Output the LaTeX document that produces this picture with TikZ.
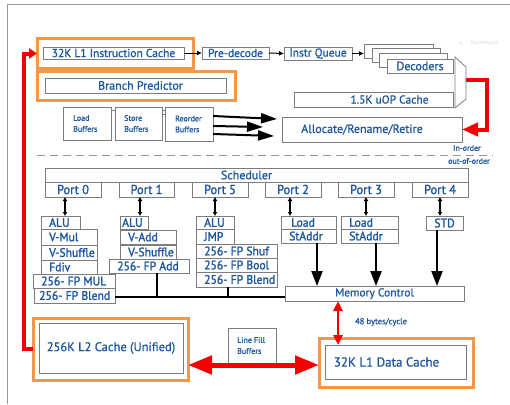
\documentclass[tikz,border=0pt]{standalone}
\usepackage{fontspec}
\setmainfont{PT Sans}
\newfontfamily\medfont[FakeBold=0.8]{PT Sans}
\newfontfamily\heavyfont[FakeBold=1.6,FakeStretch=0.95]{PT Sans}
\usetikzlibrary{arrows.meta,fit,calc}
\definecolor{txtblue}{RGB}{28,86,158}
\definecolor{boxgray}{RGB}{125,125,125}
\definecolor{orng}{RGB}{247,150,70}
\definecolor{redarr}{RGB}{245,0,0}
\tikzset{
  ubox/.style={draw=boxgray,line width=0.8pt,fill=white,inner sep=0pt,outer sep=0pt},
  obox/.style={draw=orng,line width=3pt,inner sep=0pt,outer sep=0pt},
  txt/.style={text=txtblue,inner sep=0pt,font=\medfont\fontsize{11.5}{13}\selectfont},
  bigtxt/.style={font=\medfont\fontsize{12}{14}\selectfont},
  unittxt/.style={font=\heavyfont\fontsize{12.3}{14}\selectfont},
  porttxt/.style={font=\heavyfont\fontsize{13}{15}\selectfont},
  smalltxt/.style={font=\medfont\fontsize{8}{11}\selectfont},
  flow/.style={draw=black,line width=1pt,-{Latex[length=5pt,width=5pt]}},
  biarr/.style={draw=black,line width=1.3pt,{Latex[length=4pt,width=5pt]}-{Latex[length=4pt,width=5pt]}},
  fatarr/.style={draw=black,line width=2.2pt,-{Triangle[length=15pt,width=11pt]}},
  issue/.style={draw=black,line width=2pt,-{Triangle[length=16pt,width=10pt]}},
  redline/.style={draw=redarr,line width=4pt},
}
% box with centred text: [text options]{name}{corner}{corner}{text}
\newcommand\mybox[5][]{\node[ubox,fit={(#3) (#4)}] (#2) {};
  \node[txt,#1] (#2-t) at (#2.center) {#5};}
% box with text set flush left
\newcommand\mylbox[5][]{\node[ubox,fit={(#3) (#4)}] (#2) {};
  \node[txt,anchor=west,#1] (#2-t) at ($(#2.west)+(8,0)$) {#5};}

\begin{document}
\begin{tikzpicture}[x=1pt,y=-1pt]
\useasboundingbox (0,0) rectangle (510,404);
\fill[white] (0,0) rectangle (510,404);
\draw[boxgray!80,line width=1pt] (7,404) -- (7,5) -- (510,5);

% faint tooltip
\fill[black!8] (461,43) circle (1.6);
\node[text=black!14,font=\fontsize{5.5}{6}\selectfont,anchor=west,inner sep=0pt] (tip) at (471,43) {Rectangular};

% ---------------- front end ----------------
\node[obox,fit={(37,39) (193,68)}] (ico) {};
\mybox{ic}{43,47}{184,59}{32K L1 Instruction Cache}
\mybox{pd}{202,47}{269,59}{Pre-decode}
\mybox{iq}{284,47}{352,60}{Instr Queue}
\node[ubox,fit={(364,44) (433,58)}] (dec1) {};
\node[ubox,fit={(372,48) (440,62)}] (dec2) {};
\node[ubox,fit={(379,53) (447,67)}] (dec3) {};
\mybox[bigtxt]{dec4}{387,59}{453,73}{Decoders}
\draw[flow] (ic.east) -- (pd.west);
\draw[flow] (pd.east) -- (iq.west);
\draw[flow] (iq.east) -- (iq.east -| dec1.west);

\node[obox,fit={(37,71) (235,100)}] (bpo) {};
\mybox[bigtxt,xshift=5pt]{bp}{45,78}{226,93}{Branch Predictor}

\mybox[xshift=16pt]{uop}{294,92}{453,107}{1.5K uOP Cache}
% selector in front of the allocator
\draw[ubox] (455,57) -- (466,67) -- (466,99) -- (455,108) -- cycle;
\coordinate (muxout) at (466,80);

\mylbox[smalltxt,align=left,xshift=2pt]{ldb}{63,107}{111,140}{Load\\Buffers}
\mylbox[smalltxt,align=left,xshift=1pt]{stb}{115,107}{162,140}{Store\\Buffers}
\mylbox[smalltxt,align=left,xshift=2pt]{rob}{165,107}{213,141}{Reorder\\Buffers}
\draw[boxgray,line width=0.8pt] ($(ldb.north east)+(0,3)$) -- ($(stb.north west)+(0,3)$);
\draw[boxgray,line width=0.8pt] ($(stb.north east)+(0,3)$) -- ($(rob.north west)+(0,3)$);
\draw[boxgray,line width=0.8pt] ($(stb.north east)+(0,7)$) -- ($(rob.north west)+(0,7)$);

\mybox[bigtxt,xshift=-10pt]{alloc}{282,117}{462,142}{Allocate/Rename/Retire}
\draw[issue] ($(rob.east)+(0,-8)$) -- ($(alloc.west)+(-5,-10.5)$);
\draw[issue] ($(rob.east)+(0,2)$) -- ($(alloc.west)+(-19,-2.5)$);
\draw[issue] ($(rob.east)+(0,10)$) -- ($(alloc.west)+(-8,6.5)$);

\draw[redline,-{Triangle[length=16pt,width=13pt]}] (muxout) -- ++(21,0) |- (alloc.east);

% in-order / out-of-order boundary
\draw[boxgray!80,line width=1pt,dash pattern=on 8pt off 5pt] (37,155) -- (493,155);
\node[txt,smalltxt] (inord) at (467,148) {In-order};
\node[txt,smalltxt] (ooord) at (469,161) {out-of-order};

% ---------------- scheduler and ports ----------------
\mybox[bigtxt,xshift=-10pt]{sched}{45,168}{468,182}{Scheduler}
\mybox[porttxt]{p0}{45,182}{101,197}{Port 0}
\mybox[porttxt]{p1}{119,182}{174,197}{Port 1}
\mybox[porttxt]{p5}{192,182}{248,197}{Port 5}
\mybox[porttxt]{p2}{265,182}{321,197}{Port 2}
\mybox[porttxt]{p3}{338,182}{394,197}{Port 3}
\mybox[porttxt]{p4}{412,182}{468,197}{Port 4}

% port 0 units
\mylbox[unittxt]{alua}{41,216}{80,229}{ALU}
\mylbox[unittxt]{vmul}{41,229}{97,245}{V-Mul}
\mylbox[unittxt]{vshfa}{41,245}{97,260}{V-Shuffle}
\mylbox[unittxt]{fdiv}{41,260}{97,274}{Fdiv}
\mylbox[unittxt]{fpmul}{33,274}{115,288}{256- FP MUL}
\mylbox[unittxt,xshift=-3pt]{fpblenda}{34,288}{115,303}{256- FP Blend}
% port 1 units
\mylbox[unittxt,xshift=-6pt]{alub}{120,216}{148,229}{ALU}
\mylbox[unittxt]{vadd}{120,230}{176,244}{V-Add}
\mylbox[unittxt]{vshfb}{120,245}{176,259}{V-Shuffle}
\mylbox[unittxt]{fpadd}{109,259}{189,273}{256- FP Add}
% port 5 units
\mylbox[unittxt]{aluc}{196,216}{234,229}{ALU}
\mylbox[unittxt]{jmp}{196,229}{234,244}{JMP}
\mylbox[unittxt]{fpshuf}{196,244}{277,258}{256- FP Shuf}
\mylbox[unittxt]{fpbool}{196,258}{277,272}{256- FP Bool}
\mylbox[unittxt]{fpblendc}{196,272}{277,287}{256- FP Blend}
% ports 2, 3, 4
\mylbox[unittxt,xshift=2pt]{lda}{281,216}{336,229}{Load}
\mylbox[unittxt]{sta}{281,229}{336,243}{StAddr}
\mylbox[unittxt]{ldb2}{341,216}{398,229}{Load}
\mylbox[unittxt]{stb2}{341,229}{398,243}{StAddr}
\mybox[unittxt]{std}{426,216}{463,230}{STD}

% port to unit links
\coordinate (q0) at ($(p0.south)+(-8,0)$);
\coordinate (q1) at ($(p1.south)+(-6.5,0)$);
\coordinate (q5) at ($(p5.south)+(-5,0)$);
\coordinate (q2) at ($(p2.south)+(-3,0)$);
\coordinate (q3) at (p3.south);
\coordinate (q4) at (p4.south);
\draw[biarr] (q0) -- (q0 |- alua.north);
\draw[biarr] (q1) -- (q1 |- alub.north);
\draw[biarr] (q5) -- (q5 |- aluc.north);
\draw[biarr] (q2) -- (q2 |- lda.north);
\draw[biarr] (q3) -- (q3 |- ldb2.north);
\draw[biarr] (q4) -- (q4 |- std.north);

% ---------------- memory ----------------
\mybox{memc}{285,286}{464,301}{Memory Control}
\coordinate (m2) at ($(sta.south)+(8.5,0)$);
\coordinate (m3) at ($(stb2.south)+(6.5,0)$);
\coordinate (m4) at ($(std.south)+(-7.5,0)$);
\draw[fatarr] (m2) -- (m2 |- memc.north);
\draw[fatarr] (m3) -- (m3 |- memc.north);
\draw[fatarr] (m4) -- (m4 |- memc.north);

% result bus into memory control
\coordinate (bus) at (0,297);
\draw[black,line width=1.3pt] (fpblenda.east |- bus) -- (memc.west |- bus);
\coordinate (ta) at ($(fpadd.south)+(8,0)$);
\coordinate (tc) at ($(fpblendc.south)+(-8.5,0)$);
\draw[black,line width=1.3pt] (ta) -- (ta |- bus);
\draw[black,line width=1.3pt] (tc) -- (tc |- bus);

\node[obox,fit={(33,318) (188,380)}] (l2o) {};
\mybox[font=\medfont\fontsize{12.5}{14}\selectfont]{l2}{39,323}{183,373}{256K L2 Cache (Unified)}
\node[obox,fit={(319,338) (473,387)}] (l1do) {};
\mybox[font=\medfont\fontsize{13}{15}\selectfont,xshift=-9pt]{l1d}{325,345}{466,379}{32K L1 Data Cache}
\mylbox[smalltxt,align=left,xshift=1pt]{lfb}{228,328}{276,363}{Line Fill\\Buffers}

\coordinate (xm) at (338,0);
\draw[draw=redarr,line width=2.5pt,{Triangle[length=10pt,width=9pt]}-{Triangle[length=10pt,width=9pt]}]
  (memc.south -| xm) -- (l1d.north -| xm);
\node[txt,font=\medfont\fontsize{8.5}{10}\selectfont] (bw) at (381,322) {48 bytes/cycle};

\coordinate (yl) at (0,365);
\draw[draw=redarr,line width=5pt,{Triangle[length=24pt,width=18pt]}-{Triangle[length=24pt,width=18pt]}]
  (l2o.east |- yl) -- (l1do.west |- yl);

\draw[redline,-{Triangle[length=8pt,width=10pt]}] (l2o.west) -- ++(-9,0) |- (ico.west);
\end{tikzpicture}
\end{document}
